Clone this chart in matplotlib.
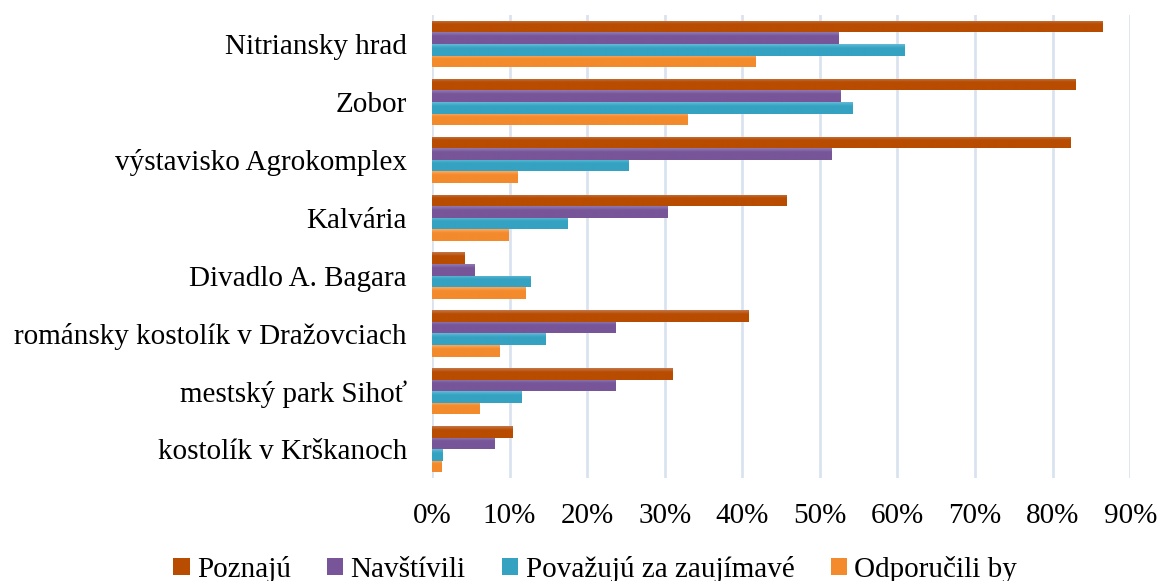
import numpy as np
import matplotlib
matplotlib.use("Agg")
import matplotlib.pyplot as plt
from matplotlib.patches import Patch
from matplotlib.colors import LinearSegmentedColormap
from matplotlib.ticker import PercentFormatter

plt.rcParams['font.family'] = ['Liberation Serif', 'DejaVu Serif']

categories = [
    "Nitriansky hrad",
    "Zobor",
    "výstavisko Agrokomplex",
    "Kalvária",
    "Divadlo A. Bagara",
    "románsky kostolík v Dražovciach",
    "mestský park Sihoť",
    "kostolík v Krškanoch",
]
series_names = ["Poznajú", "Navštívili", "Považujú za zaujímavé", "Odporučili by"]
poznaju = [86.4, 83.0, 82.3, 45.7, 4.2, 40.8, 31.0, 10.4]
navstivili = [52.4, 52.6, 51.5, 30.4, 5.5, 23.7, 23.7, 8.1]
povazuju = [60.9, 54.2, 25.3, 17.5, 12.7, 14.6, 11.6, 1.3]
odporucili = [41.7, 32.9, 11.0, 9.8, 12.1, 8.7, 6.1, 1.2]
series_values = [poznaju, navstivili, povazuju, odporucili]

# (top, bottom) shades for each series' gradient fill
shades = [
    ("#c4774a", "#b84c00"),
    ("#9079b4", "#775598"),
    ("#62bbd6", "#35a2c2"),
    ("#ffa75c", "#f38a2c"),
]

fig = plt.figure(figsize=(11.58, 5.81), dpi=100)
ax = fig.add_axes([0.373, 0.177, 0.603, 0.797])

n = len(categories)
y = np.arange(n)
h = 0.2
grad = np.linspace(0, 1, 64).reshape(-1, 1)

for i, (vals, (c_top, c_bot)) in enumerate(zip(series_values, shades)):
    offs = y - 0.3 + i * h
    bars = ax.barh(offs, vals, height=h, color=c_bot, linewidth=0, zorder=2)
    cmap = LinearSegmentedColormap.from_list(f"g{i}", [c_top, c_bot, c_bot, c_bot])
    for bar in bars:
        x0, y0 = bar.get_x(), bar.get_y()
        w, hh = bar.get_width(), bar.get_height()
        im = ax.imshow(grad, cmap=cmap, aspect="auto",
                       extent=(x0, x0 + w, y0 + hh, y0), origin="upper",
                       zorder=3, interpolation="bilinear")
        im.set_clip_path(bar)

ax.set_xlim(0, 90)
ax.set_ylim(n - 0.5, -0.5)
ax.set_xticks(np.arange(0, 91, 10))
ax.xaxis.set_major_formatter(PercentFormatter(decimals=0))
ax.set_yticks(y)
ax.set_yticklabels(categories)
ax.tick_params(axis="both", length=0, labelsize=21, colors="black")
ax.tick_params(axis="y", pad=18)
ax.tick_params(axis="x", pad=18)
ax.grid(axis="x", color="#d9e3f0", linewidth=2, zorder=0)
ax.set_axisbelow(True)
for s in ax.spines.values():
    s.set_visible(False)

handles = [Patch(facecolor=c_bot, edgecolor="none") for _, c_bot in shades]
fig.legend(handles, series_names, loc="center", bbox_to_anchor=(0.514, 0.02),
           ncol=4, frameon=False, fontsize=21, handlelength=0.55, handleheight=0.55,
           handletextpad=0.25, columnspacing=1.25)

fig.savefig("out.png", dpi=100)
